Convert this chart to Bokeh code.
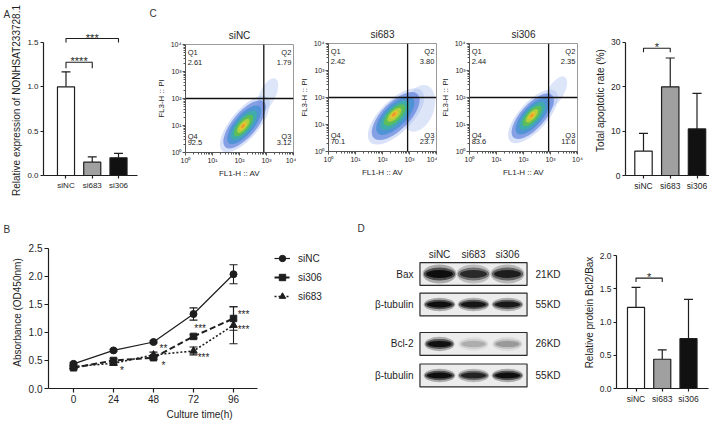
import math
from bokeh.plotting import figure
from bokeh.models import (Range1d, FixedTicker, Label, Span, ColumnDataSource, Title,
                          Legend, LegendItem, PrintfTickFormatter)
from bokeh.layouts import row, column
from bokeh.embed import file_html
from bokeh.resources import INLINE
from bokeh.core.properties import value

FONT = "Liberation Sans"
INK = "#1e1e1e"

# ---------------- data ----------------
groups = ["siNC", "si683", "si306"]
bar_fill = ["#ffffff", "#a0a0a0", "#111111"]

# A: relative expression
expr_mean = [1.00, 0.15, 0.20]
expr_top = [1.17, 0.21, 0.25]
expr_ticks = [0, 0.5, 1.0, 1.5]
expr_sig_text = ["***", "****"]
expr_sig_from = [1, 1]
expr_sig_to = [3, 2]
expr_sig_y = [1.545, 1.278]
expr_sig_drop = [1.50, 1.21]

# C: flow cytometry (log10 units)
flow_titles = ["siNC", "si683", "si306"]
q1_pct = ["2.61", "2.42", "2.44"]
q2_pct = ["1.79", "3.80", "2.35"]
q3_pct = ["3.12", "23.7", "11.6"]
q4_pct = ["92.5", "70.1", "83.6"]
gate_av = [2.90, 2.93, 2.93]
gate_pi = [2.0, 2.0, 2.0]
cloud_cx = [2.20, 2.50, 2.35]
cloud_cy = [1.05, 1.30, 1.30]
cloud_major = [2.6, 2.7, 2.5]
cloud_minor = [1.05, 1.2, 1.05]
cloud_angle = [50, 45, 48]
core_cx = [2.12, 2.42, 2.30]
core_cy = [0.97, 1.38, 1.33]
tail_cx = [3.05, 3.35, 3.20]
tail_cy = [2.15, 1.60, 2.20]
tail_major = [1.3, 1.8, 1.3]
tail_minor = [0.6, 1.1, 0.6]
tail_angle = [65, 70, 60]

# C: total apoptotic rate
apo_mean = [5.5, 20.0, 10.5]
apo_top = [9.5, 26.5, 18.5]
apo_ticks = [0, 10, 20, 30]
apo_sig_text = ["*"]
apo_sig_from = [1]
apo_sig_to = [2]
apo_sig_y = [28.7]
apo_sig_drop = [27.8]

# B: CCK-8
hours = [0, 24, 48, 72, 96]
od_sinc = [0.44, 0.68, 0.83, 1.33, 2.04]
err_sinc = [0.02, 0.02, 0.02, 0.11, 0.17]
od_si306 = [0.37, 0.50, 0.55, 0.93, 1.25]
err_si306 = [0.02, 0.03, 0.03, 0.03, 0.21]
od_si683 = [0.39, 0.45, 0.60, 0.67, 1.13]
err_si683 = [0.02, 0.03, 0.05, 0.07, 0.33]
od_ticks = [0, 0.5, 1.0, 1.5, 2.0, 2.5]
star_text = ["***", "**", "*", "*", "***", "***", "***"]
star_h = [76, 54, 29, 54, 78, 102, 102]
star_od = [1.13, 0.77, 0.375, 0.46, 0.61, 1.37, 1.10]

# D: western blot
blot_rows = ["Bax", "β-tubulin", "Bcl-2", "β-tubulin"]
blot_kd = ["21KD", "55KD", "26KD", "55KD"]
band_bax = [0.97, 0.70, 0.80]
band_tub1 = [0.95, 0.88, 0.85]
band_bcl2 = [0.92, 0.16, 0.22]
band_tub2 = [0.95, 0.76, 0.95]

# D: Bcl2/Bax
ratio_mean = [1.22, 0.44, 0.75]
ratio_top = [1.52, 0.58, 1.34]
ratio_ticks = [0, 0.5, 1.0, 1.5, 2.0]
ratio_sig_text = ["*"]
ratio_sig_from = [1]
ratio_sig_to = [2]
ratio_sig_y = [1.66]
ratio_sig_drop = [1.60]


def new_fig(fw, fh, left, right, top, bottom, xr, yr, **kw):
    p = figure(frame_width=fw, frame_height=fh, x_range=Range1d(*xr), y_range=Range1d(*yr),
               min_border_left=left, min_border_right=right, min_border_top=top,
               min_border_bottom=bottom, toolbar_location=None, output_backend="svg",
               frame_align=False, **kw)
    p.grid.visible = False
    p.outline_line_color = None
    p.title.text_font = FONT
    p.title.text_font_style = "normal"
    p.title.text_font_size = "10px"
    p.title.text_color = "#333333"
    return p


def style_axes(p, tick_fs, label_fs, tick_out=4, lab_standoff=2, ax_standoff=3,
               line_color=INK, lw=1.2):
    for ax in p.axis:
        ax.axis_line_color = line_color
        ax.axis_line_width = lw
        ax.major_tick_line_color = line_color
        ax.major_tick_line_width = lw
        ax.major_tick_in = 0
        ax.major_tick_out = tick_out
        ax.minor_tick_line_color = None
        ax.major_label_text_font = FONT
        ax.major_label_text_font_size = tick_fs
        ax.major_label_text_color = INK
        ax.axis_label_text_font = FONT
        ax.axis_label_text_font_size = label_fs
        ax.axis_label_text_font_style = "normal"
        ax.axis_label_text_color = INK
        ax.major_label_standoff = lab_standoff
        ax.axis_label_standoff = ax_standoff


def letter_title(p, t, offset, standoff):
    p.title.text = t
    p.title.align = "left"
    p.title.offset = offset
    p.title.standoff = standoff


def bar_panel(fw, fh, left, right, top, bottom, xr, yr, means, tops, ticks,
              fmt, ylabel, tick_fs, cap_half, sig, label_fs="10px", star_fs="11px"):
    p = new_fig(fw, fh, left, right, top, bottom, xr, yr, y_axis_label=ylabel)
    xs = [1, 2, 3]
    src = ColumnDataSource(dict(x=xs, top=means, err=tops, color=bar_fill,
                                x0=[v - cap_half for v in xs], x1=[v + cap_half for v in xs]))
    p.segment(x0="x", y0="top", x1="x", y1="err", line_color=INK, line_width=1.2, source=src)
    p.segment(x0="x0", y0="err", x1="x1", y1="err", line_color=INK, line_width=1.2, source=src)
    p.vbar(x="x", top="top", bottom=0, width=0.65, fill_color="color", line_color=INK,
           line_width=1.2, source=src)
    texts, fr, to, ys, drops = sig
    for t, a, b, yv, d in zip(texts, fr, to, ys, drops):
        p.line(x=[a, a, b, b], y=[d, yv, yv, d], line_color=INK, line_width=1.1)
        p.text(x=[(a + b) / 2], y=[yv], text=[t], text_align="center", text_baseline="bottom",
               y_offset=5, text_font=value(FONT), text_font_size=value(star_fs), text_color=INK)
    p.xaxis.ticker = FixedTicker(ticks=xs)
    p.xaxis.major_label_overrides = {1: groups[0], 2: groups[1], 3: groups[2]}
    p.yaxis.ticker = FixedTicker(ticks=ticks)
    p.yaxis.formatter = PrintfTickFormatter(format=fmt)
    p.yaxis.bounds = (ticks[0], ticks[-1])
    style_axes(p, tick_fs, label_fs, tick_out=3, lab_standoff=2, ax_standoff=2)
    return p


# ---------------- A ----------------
pA = bar_panel(94, 150, 43, 11, 25, 40, (0.143, 3.724), (0, 1.692), expr_mean, expr_top,
               expr_ticks, "%.1f", "Relative expression of NONHSAT233728.1", "8px", 0.17,
               (expr_sig_text, expr_sig_from, expr_sig_to, expr_sig_y, expr_sig_drop))
letter_title(pA, "A", -40, 12)

# ---------------- C flow ----------------
log_minor = [d + math.log10(k) for d in range(4) for k in range(2, 10)]
sup = {0: "10⁰", 1: "10¹", 2: "10²", 3: "10³", 4: "10⁴"}
cloud_layers = [(1.00, "#a9bdf0", 0.45), (0.85, "#4f74d8", 0.6), (0.68, "#3a8fd0", 0.7),
                (0.52, "#3cb0a0", 0.8), (0.38, "#62c04c", 0.85), (0.25, "#b8d03a", 0.9),
                (0.14, "#f0c030", 0.9), (0.07, "#f08a2a", 0.85)]


def flow_panel(i, left, right, letter=None):
    p = new_fig(108, 108, left, right, 43, 64, (0, 4), (0, 4),
                x_axis_label="FL1-H :: AV", y_axis_label="FL3-H :: PI")
    p.outline_line_color = "#9a9a9a"
    ttl = Title(text=flow_titles[i], align="center", standoff=8, text_font=FONT,
                text_font_style="normal", text_font_size="10px", text_color=INK)
    if letter is None:
        p.title = ttl
    else:
        letter_title(p, letter, -36, 10)
        p.add_layout(ttl, "above")
    p.ellipse(x=[tail_cx[i]], y=[tail_cy[i]], width=[tail_major[i]], height=[tail_minor[i]],
              angle=[tail_angle[i]], angle_units="deg", fill_color="#9fb4ec", fill_alpha=0.35,
              line_color=None)
    for f, col, alpha in cloud_layers:
        cx = core_cx[i] + (cloud_cx[i] - core_cx[i]) * f
        cy = core_cy[i] + (cloud_cy[i] - core_cy[i]) * f
        p.ellipse(x=[cx], y=[cy], width=[cloud_major[i] * f], height=[cloud_minor[i] * f],
                  angle=[cloud_angle[i]], angle_units="deg", fill_color=col, fill_alpha=alpha,
                  line_color=None)
    p.add_layout(Span(location=gate_av[i], dimension="height", line_color="#111111", line_width=1.3))
    p.add_layout(Span(location=gate_pi[i], dimension="width", line_color="#111111", line_width=1.3))
    lab = dict(text_font=FONT, text_font_size="7.5px", text_color=INK, text_baseline="middle")
    p.add_layout(Label(x=0.08, y=3.71, text="Q1", text_align="left", **lab))
    p.add_layout(Label(x=0.08, y=3.33, text=q1_pct[i], text_align="left", **lab))
    p.add_layout(Label(x=3.92, y=3.71, text="Q2", text_align="right", **lab))
    p.add_layout(Label(x=3.92, y=3.33, text=q2_pct[i], text_align="right", **lab))
    p.add_layout(Label(x=0.08, y=0.60, text="Q4", text_align="left", **lab))
    p.add_layout(Label(x=0.08, y=0.36, text=q4_pct[i], text_align="left", **lab))
    p.add_layout(Label(x=3.92, y=0.60, text="Q3", text_align="right", **lab))
    p.add_layout(Label(x=3.92, y=0.36, text=q3_pct[i], text_align="right", **lab))
    for ax in (p.xaxis[0], p.yaxis[0]):
        ax.ticker = FixedTicker(ticks=[0, 1, 2, 3, 4], minor_ticks=log_minor)
        ax.major_label_overrides = sup
    style_axes(p, "7px", "8px", tick_out=3, lab_standoff=1, ax_standoff=2,
               line_color="#555555", lw=1)
    for ax in p.axis:
        ax.minor_tick_line_color = "#555555"
        ax.minor_tick_out = 2
        ax.minor_tick_in = 0
    return p


pC1 = flow_panel(0, 37, 3, letter="C")
pC2 = flow_panel(1, 28, 1)
pC3 = flow_panel(2, 28, 11)

pCbar = bar_panel(91, 150, 37, 1, 25, 40, (0.327, 3.729), (0, 33.83), apo_mean, apo_top,
                  apo_ticks, "%d", "Total apoptotic rate (%)", "8.5px", 0.17,
                  (apo_sig_text, apo_sig_from, apo_sig_to, apo_sig_y, apo_sig_drop))

# ---------------- B ----------------
pB = new_fig(302, 152, 48, 5, 20, 35, (-15, 166.2), (0, 2.714),
             x_axis_label="Culture time(h)", y_axis_label="Absorbance (OD450nm)")
letter_title(pB, "B", -45, 3)
series = [("siNC", od_sinc, err_sinc, "circle", "solid", 1.2, 7),
          ("si306", od_si306, err_si306, "square", "6 3", 2.0, 6.5),
          ("si683", od_si683, err_si683, "triangle", "2 2", 1.6, 7.5)]
items = []
cap = 2.4
for name, ys, es, mk, dash, lw, sz in series:
    lo = [m - e for m, e in zip(ys, es)]
    hi = [m + e for m, e in zip(ys, es)]
    pB.segment(x0=hours, y0=lo, x1=hours, y1=hi, line_color=INK, line_width=1.1)
    pB.segment(x0=[h - cap for h in hours], y0=hi, x1=[h + cap for h in hours], y1=hi,
               line_color=INK, line_width=1.1)
    pB.segment(x0=[h - cap for h in hours], y0=lo, x1=[h + cap for h in hours], y1=lo,
               line_color=INK, line_width=1.1)
    lr = pB.line(hours, ys, line_color=INK, line_width=lw, line_dash=dash)
    sr = pB.scatter(hours, ys, marker=mk, size=sz, fill_color=INK, line_color=INK)
    items.append(LegendItem(label=name, renderers=[lr, sr]))
pB.text(x=star_h, y=star_od, text=star_text, text_align="center", text_baseline="middle",
        y_offset=3, text_font=value(FONT), text_font_size=value("10px"), text_color=INK)
leg = Legend(items=items, location=(226, 84), padding=0, margin=0, spacing=3,
             glyph_width=16, glyph_height=16, label_standoff=8, border_line_color=None,
             background_fill_alpha=0, label_text_font=FONT, label_text_font_size="10px",
             label_text_color=INK)
pB.add_layout(leg)
pB.xaxis.ticker = FixedTicker(ticks=hours)
pB.xaxis.bounds = (-15, 110.4)
pB.yaxis.ticker = FixedTicker(ticks=od_ticks)
pB.yaxis.formatter = PrintfTickFormatter(format="%.1f")
pB.yaxis.bounds = (0, 2.5)
style_axes(pB, "10px", "10px")

# ---------------- D blot ----------------
pD = new_fig(225, 207, 0, 0, 0, 0, (-1.4706, 5.1471), (4.823, -1.855),
             x_axis_location=None, y_axis_location=None)
pD.min_border = 0
row_y = [0, 0.984, 2.258, 3.274]
band_w = [0.92, 0.86, 0.82, 0.86]
band_h = [0.42, 0.30, 0.32, 0.30]
lanes = [1, 2, 3]
pD.rect(x=[2] * 4, y=row_y, width=3.15, height=0.74, fill_color="#ececec",
        line_color="#2a2a2a", line_width=1.2)
for r, ints in enumerate([band_bax, band_tub1, band_bcl2, band_tub2]):
    for sw, sh, sa in [(1.08, 1.45, 0.3), (1.0, 1.0, 0.6), (0.86, 0.62, 1.0)]:
        pD.ellipse(x=lanes, y=[row_y[r]] * 3, width=band_w[r] * sw, height=band_h[r] * sh,
                   fill_color="#0c0c0c", fill_alpha=[v * sa for v in ints], line_color=None)
pD.text(x=[0.235] * 4, y=row_y, text=blot_rows, text_align="right", text_baseline="middle",
        text_font=value(FONT), text_font_size=value("10px"), text_color=INK)
pD.text(x=[3.824] * 4, y=row_y, text=blot_kd, text_align="left", text_baseline="middle",
        text_font=value(FONT), text_font_size=value("10px"), text_color=INK)
pD.text(x=lanes, y=[-0.629] * 3, text=groups, text_align="center", text_baseline="middle",
        text_font=value(FONT), text_font_size=value("10px"), text_color=INK)
pD.add_layout(Label(x=-1.41, y=-1.468, text="D", text_font=FONT, text_font_size="10px",
                    text_color="#333333", text_baseline="middle", text_align="left"))

pDbar = bar_panel(92, 152, 35, 2, 20, 35, (0.257, 3.762), (0, 2.286), ratio_mean, ratio_top,
                  ratio_ticks, "%.1f", "Relative protein Bcl2/Bax", "8.5px", 0.17,
                  (ratio_sig_text, ratio_sig_from, ratio_sig_to, ratio_sig_y, ratio_sig_drop))

layout = column(row(pA, pC1, pC2, pC3, pCbar), row(pB, pD, pDbar))
open("out.html", "w").write(file_html(layout, INLINE))
